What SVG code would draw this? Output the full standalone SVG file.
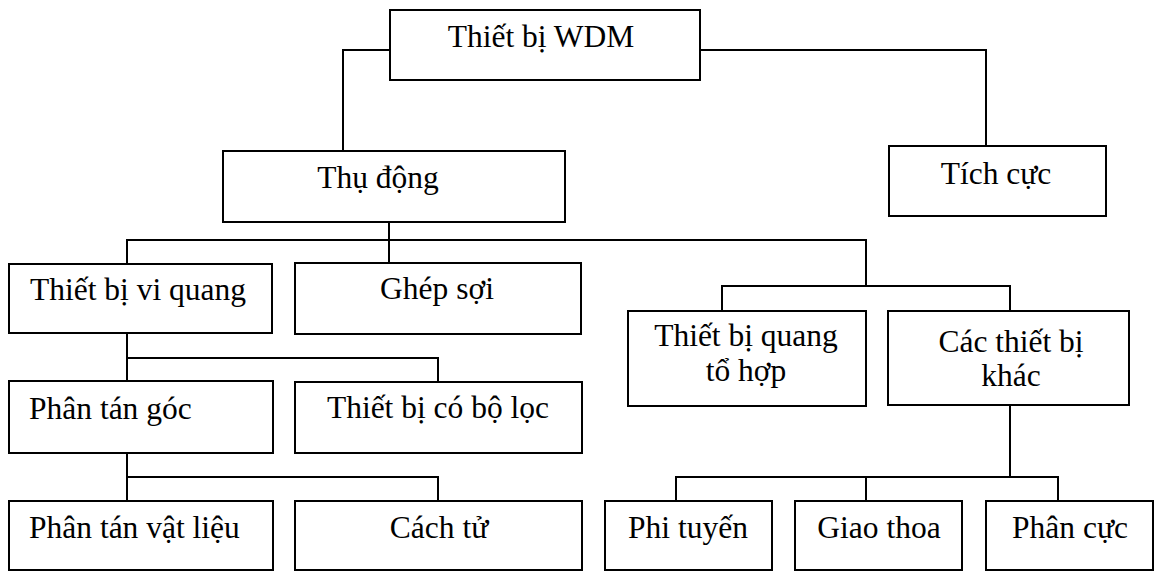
<svg xmlns="http://www.w3.org/2000/svg" width="1161" height="572" viewBox="0 0 1161 572">
<style>
.box{fill:#fff;stroke:#000;stroke-width:2}
.c{fill:none;stroke:#000;stroke-width:2}
text{font-family:"Liberation Serif","Times New Roman",serif;font-size:31.5px;fill:#000}
.m{text-anchor:middle}
</style>
<rect width="1161" height="572" fill="#fff"/>
<g id="connectors">
<path class="c" d="M390,50 H343 V151"/>
<path class="c" d="M700,50 H986 V146"/>
<path class="c" d="M389,222 V263"/>
<path class="c" d="M127,264 V240 H866 V286"/>
<path class="c" d="M722,311 V286 H1010 V311"/>
<path class="c" d="M127,333 V381 M127,358 H438 V382"/>
<path class="c" d="M127,453 V501 M127,477 H438 V501"/>
<path class="c" d="M1010,405 V477 M676,501 V477 H1058 V501 M866,477 V501"/>
</g>
<g id="n-wdm"><rect class="box" x="390" y="10" width="310" height="70"/><text class="m" x="541" y="47">Thiết bị WDM</text></g>
<g id="n-thudong"><rect class="box" x="223" y="151" width="342" height="71"/><text class="m" x="378" y="188">Thụ động</text></g>
<g id="n-tichcuc"><rect class="box" x="889" y="146" width="217" height="70"/><text class="m" x="996" y="184">Tích cực</text></g>
<g id="n-viquang"><rect class="box" x="9" y="264" width="263" height="69"/><text x="30" y="300">Thiết bị vi quang</text></g>
<g id="n-ghepsoi"><rect class="box" x="295" y="263" width="286" height="71"/><text class="m" x="437" y="299">Ghép sợi</text></g>
<g id="n-tohop"><rect class="box" x="628" y="311" width="238" height="95"/><text class="m" x="746" y="346">Thiết bị quang</text><text class="m" x="746" y="381">tổ hợp</text></g>
<g id="n-khac"><rect class="box" x="888" y="311" width="241" height="94"/><text class="m" x="1011" y="352">Các thiết bị</text><text class="m" x="1011" y="386">khác</text></g>
<g id="n-goc"><rect class="box" x="9" y="381" width="264" height="72"/><text x="29" y="419">Phân tán góc</text></g>
<g id="n-boloc"><rect class="box" x="295" y="382" width="287" height="71"/><text class="m" x="438" y="418">Thiết bị có bộ lọc</text></g>
<g id="n-vatlieu"><rect class="box" x="9" y="501" width="264" height="69"/><text x="29" y="538">Phân tán vật liệu</text></g>
<g id="n-cachtu"><rect class="box" x="295" y="501" width="287" height="69"/><text class="m" x="439" y="538">Cách tử</text></g>
<g id="n-phituyen"><rect class="box" x="605" y="501" width="167" height="69"/><text class="m" x="688" y="538">Phi tuyến</text></g>
<g id="n-giaothoa"><rect class="box" x="795" y="501" width="167" height="69"/><text class="m" x="879" y="538">Giao thoa</text></g>
<g id="n-phancuc"><rect class="box" x="986" y="501" width="167" height="69"/><text class="m" x="1070" y="538">Phân cực</text></g>
</svg>
